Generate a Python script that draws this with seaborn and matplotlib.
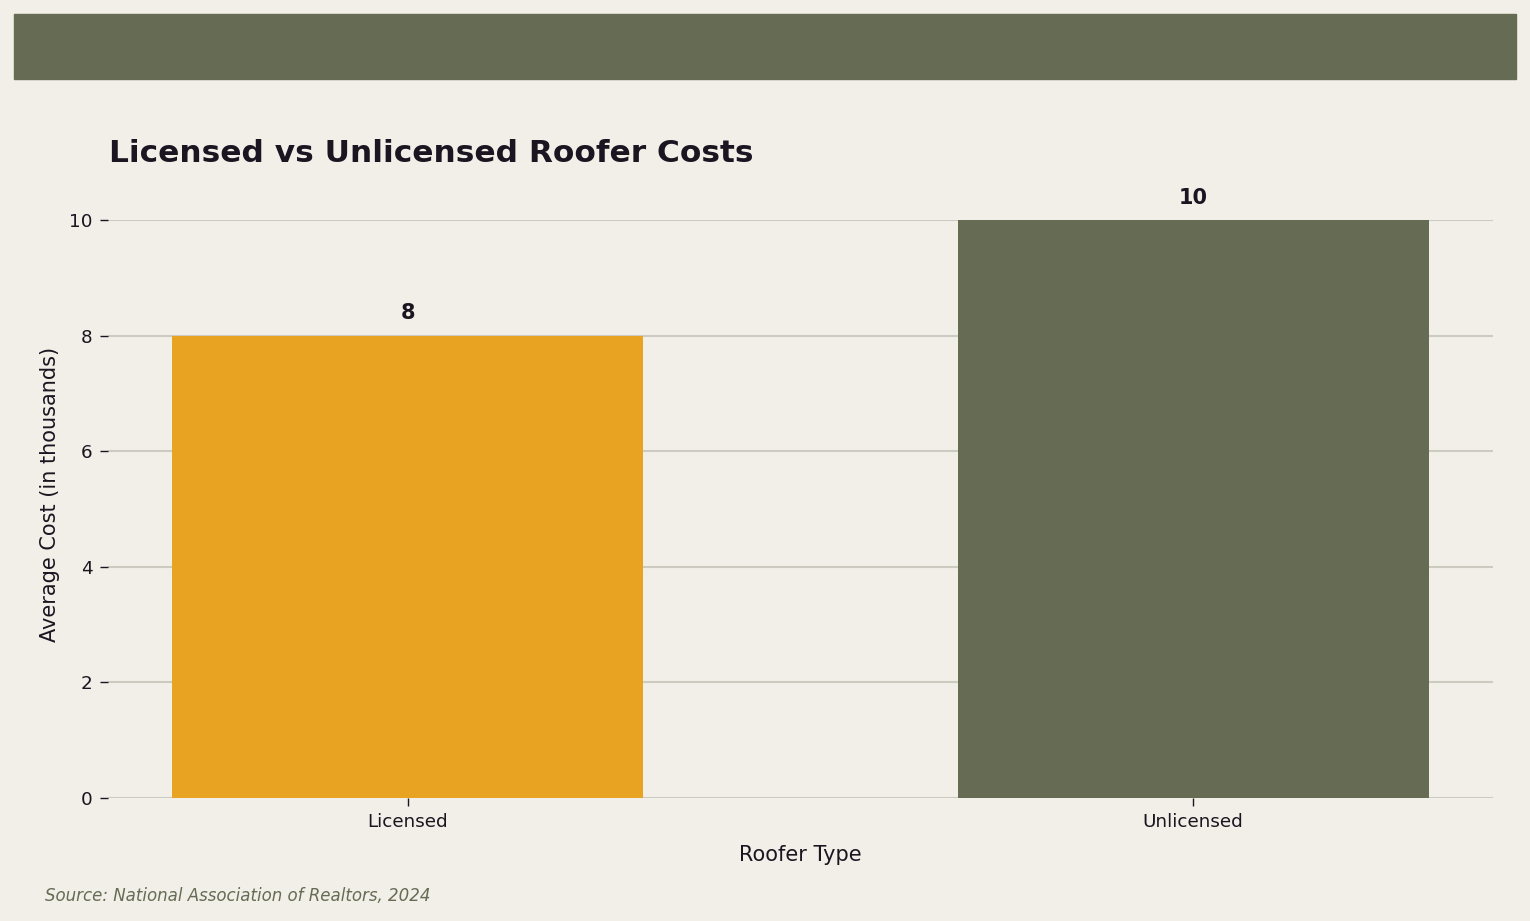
import matplotlib
matplotlib.use("Agg")
import matplotlib.pyplot as plt
import seaborn as sns
import pandas as pd
from matplotlib.patches import Rectangle

# chart data
roofer_types = ["Licensed", "Unlicensed"]
avg_costs = [8, 10]
bar_colors = ["#e8a323", "#666b54"]

bg = "#f1efe7"
dark = "#1a1520"

sns.set_theme(style="white")
plt.rcParams["font.family"] = ["DejaVu Sans"]

df = pd.DataFrame({"Roofer Type": roofer_types, "Average Cost": avg_costs})

fig = plt.figure(figsize=(15.3, 9.21), dpi=100, facecolor=bg)
ax = fig.add_axes([108 / 1530, 1 - 798 / 921, (1493 - 108) / 1530, (798 - 220) / 921])
ax.set_facecolor(bg)

# header band
fig.patches.append(Rectangle((14 / 1530, 1 - 79 / 921), (1516 - 14) / 1530, 65 / 921,
                             transform=fig.transFigure, color="#666b54", zorder=0))

sns.barplot(data=df, x="Roofer Type", y="Average Cost", hue="Roofer Type",
            palette=bar_colors, width=0.6, legend=False, ax=ax, zorder=3,
            saturation=1, linewidth=0)

ax.set_ylim(0, 10)
ax.set_xlim(-0.382, 1.382)
ax.yaxis.grid(True, color="#cccbbf", linewidth=1.5, zorder=0)
ax.set_axisbelow(True)
for s in ax.spines.values():
    s.set_visible(False)

ax.tick_params(axis="both", which="both", length=6, width=1, colors=dark,
               labelsize=13.2, left=True, bottom=True, pad=5)
ax.set_xlabel("Roofer Type", fontsize=15, color=dark, labelpad=10)
ax.set_ylabel("Average Cost (in thousands)", fontsize=15, color=dark, labelpad=7)
ax.yaxis.label.set_y(0.525)

for i, v in enumerate(avg_costs):
    ax.annotate(f"{v}", (i, v), xytext=(0, 9), textcoords="offset points",
                ha="center", va="bottom", fontsize=15, fontweight="bold", color=dark)

fig.text(109 / 1530, 1 - 153 / 921, "Licensed vs Unlicensed Roofer Costs",
         fontsize=22.5, fontweight="bold", color=dark, va="center", ha="left")
fig.text(45 / 1530, 1 - 896 / 921, "Source: National Association of Realtors, 2024",
         fontsize=12, style="italic", color="#666b54", va="center", ha="left")

fig.savefig("out.png", dpi=100, facecolor=bg)
